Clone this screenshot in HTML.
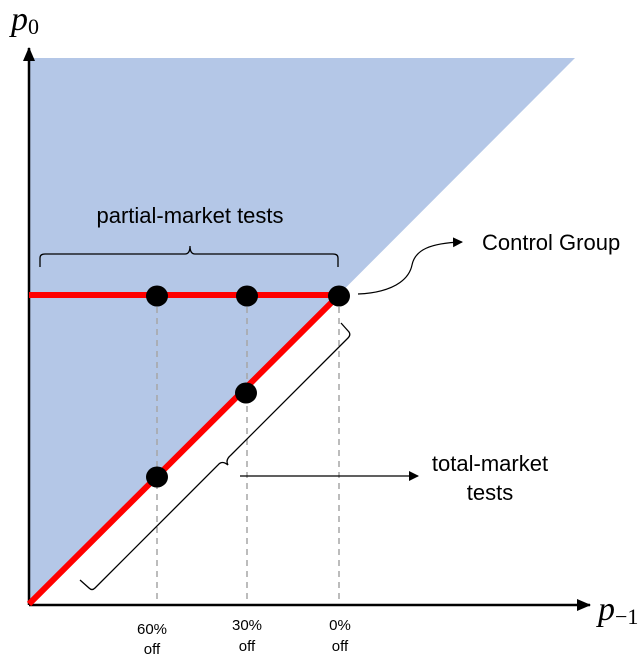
<!DOCTYPE html>
<html><head><meta charset="utf-8"><style>
html,body{margin:0;padding:0;background:#fff;width:639px;height:657px;overflow:hidden}
svg{display:block}
text{font-family:"Liberation Sans",sans-serif;fill:#000}
</style></head><body>
<svg width="639" height="657" viewBox="0 0 639 657" xmlns="http://www.w3.org/2000/svg">
<defs>
<marker id="ah" markerWidth="10" markerHeight="10" refX="9" refY="5" orient="auto" markerUnits="userSpaceOnUse">
<path d="M0,0 L10,5 L0,10 z" fill="#000"/></marker>
<marker id="ah2" markerWidth="14" markerHeight="12" refX="13" refY="6" orient="auto" markerUnits="userSpaceOnUse">
<path d="M0,0 L14,6 L0,12 z" fill="#000"/></marker>
</defs>
<polygon points="30,58 575,58 30,604" fill="#b4c7e7"/>
<g stroke="#a6a6a6" stroke-width="1.5" stroke-dasharray="6,5">
<line x1="157" y1="296" x2="157" y2="603"/>
<line x1="247" y1="296" x2="247" y2="603"/>
<line x1="339" y1="296" x2="339" y2="603"/>
</g>
<line x1="29" y1="605" x2="29" y2="48" stroke="#000" stroke-width="2.5" marker-end="url(#ah2)"/>
<line x1="29" y1="605" x2="590" y2="605" stroke="#000" stroke-width="2.5" marker-end="url(#ah2)"/>
<line x1="29" y1="295" x2="339" y2="295" stroke="#ff0000" stroke-width="6"/>
<line x1="29" y1="604" x2="339" y2="295" stroke="#ff0000" stroke-width="6"/>
<g fill="#000">
<ellipse cx="157" cy="296" rx="11" ry="10.5"/>
<ellipse cx="247" cy="296" rx="11" ry="10.5"/>
<ellipse cx="339" cy="296" rx="11" ry="10.5"/>
<ellipse cx="246" cy="393" rx="11" ry="10.5"/>
<ellipse cx="157" cy="477" rx="11" ry="10.5"/>
</g>
<path d="M40,267 L40,258 Q40,254 45,254 L185,254 Q190,254 190,246 Q190,254 195,254 L333,254 Q338,254 338,258 L338,267" fill="none" stroke="#000" stroke-width="1.3"/>
<text x="190" y="223" font-size="22" text-anchor="middle">partial-market tests</text>
<path d="M341,323 L349,332 Q351,335 348,338 L231,455 Q225,460 228,465 Q222,460 218,465 L95,588 Q92,591 89,588 L80,580" fill="none" stroke="#000" stroke-width="1.3"/>
<line x1="240" y1="476" x2="418" y2="476" stroke="#000" stroke-width="1.2" marker-end="url(#ah)"/>
<text x="490" y="471" font-size="22" text-anchor="middle">total-market</text>
<text x="490" y="500" font-size="22" text-anchor="middle">tests</text>
<path d="M358,294 C400,292 410,275 412,265 C415,250 430,243 462,242" fill="none" stroke="#000" stroke-width="1.2" marker-end="url(#ah)"/>
<text x="482" y="250" font-size="22">Control Group</text>
<g font-size="15" text-anchor="middle">
<text x="152" y="634">60%</text><text x="152" y="654">off</text>
<text x="247" y="630">30%</text><text x="247" y="651">off</text>
<text x="340" y="630">0%</text><text x="340" y="651">off</text>
</g>
<text x="11" y="30" font-size="34" font-style="italic" style="font-family:'Liberation Serif',serif">p<tspan font-size="22" font-style="normal" dy="4">0</tspan></text>
<text x="598" y="620" font-size="34" font-style="italic" style="font-family:'Liberation Serif',serif">p<tspan font-size="22" font-style="normal" dy="4">−1</tspan></text>
</svg>
</body></html>
